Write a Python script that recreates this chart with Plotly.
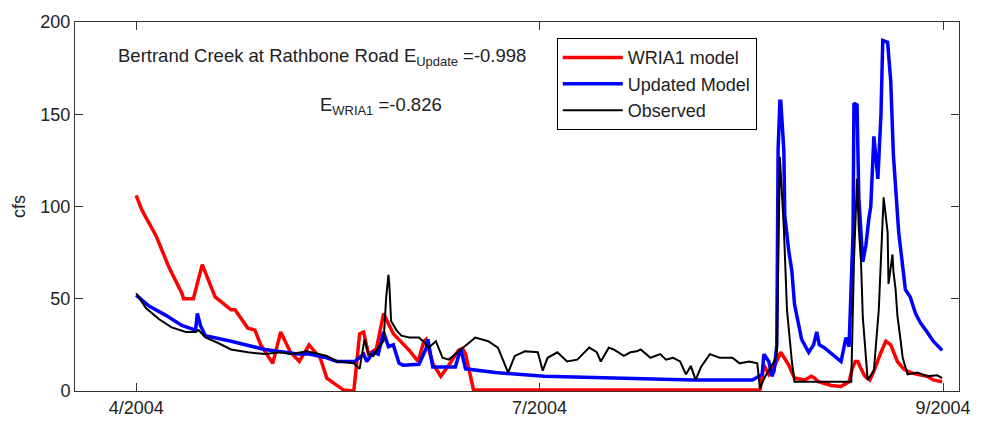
import plotly.graph_objects as go

# x = days after 1 April 2004
wria_days = [0, 1.3, 4.5, 7.4, 10.3, 10.7, 12.9, 14.9, 17.8, 21.4, 22.3, 25.2, 26.8, 28.1, 30.8,
             32.6, 34.8, 36.8, 39.0, 41.5, 43.0, 46.8, 49.1, 50.4, 51.3, 52.4, 54.2, 55.8, 57.1,
             58.0, 61.6, 63.6, 64.9, 65.4, 66.9, 68.7, 70.5, 72.7, 73.6, 74.3, 76.1,
             140.7, 141.6, 142.7, 143.9, 145.4, 147.2, 148.5, 150.8, 152.3, 153.0, 153.9, 156.8,
             159.0, 160.8, 161.5, 162.2, 162.8, 163.5, 164.4, 165.5, 166.6, 168.0, 169.1, 170.2,
             171.7, 173.1, 174.6, 176.2, 178.4, 179.8, 181.8]
wria_vals = [106, 98, 84, 67, 53, 50, 50, 68.5, 51, 44, 44, 34, 33, 25, 15,
             32, 21, 16, 25, 18, 7, 0.5, 0, 31, 32, 20, 23, 42, 35.5,
             31, 22, 16, 27, 28, 15, 8, 14, 22, 23, 20, 0.5,
             0.5, 14, 9, 13, 21, 14, 7, 6, 8, 7, 5, 3,
             2.5, 5, 12, 16, 16, 12, 8, 6, 12, 21, 27, 25,
             16, 12, 10, 9, 8, 6, 5]

upd_days = [0, 2.9, 6.7, 10.3, 13.4, 13.8, 14.5, 15.6, 21.4, 29.0, 36.4, 39.0, 43.0, 45.3, 49.3,
            51.3, 52.0, 53.5, 54.6, 55.8, 56.9, 58.0, 59.3, 60.2, 63.8, 65.4, 65.8, 66.9, 72.0,
            73.2, 74.3, 81.0, 92.1, 110.6, 125.6, 139.0, 141.2, 141.6, 142.7, 143.4, 143.9,
            144.5, 144.8, 145.2, 145.4, 146.1, 146.3, 147.2, 147.9, 148.5, 149.0, 150.1, 151.7,
            152.8, 153.5, 154.1, 155.2, 157.5, 159.0, 160.1, 160.8, 161.7, 161.9, 162.6, 163.0,
            163.9, 164.6, 165.3, 165.7, 166.4, 167.3, 168.0, 168.4, 169.5, 170.2, 170.8, 172.0,
            173.5, 174.6, 175.8, 176.9, 178.4, 179.8, 181.8]
upd_vals = [52, 46, 41, 35.5, 33, 42, 35.5, 30, 27, 22.5, 20, 20, 18, 16, 16,
            20, 16, 21, 20, 32, 24, 25, 15, 14, 14.5, 23, 28, 13, 13,
            23, 12, 10, 8, 7, 6, 6, 9, 20, 16, 8, 11,
            25, 131, 157, 157, 130, 95, 76, 65, 47, 41, 28, 21,
            25, 32, 25, 23.5, 19, 16, 29, 24, 86, 156, 155, 105,
            70, 79, 94, 100, 138, 115, 150, 190, 189, 168, 128, 86,
            55, 51, 42, 37, 32, 27, 22]

obs_days = [0, 2.2, 5.1, 8.0, 11.2, 13.4, 14.1, 15.6, 18.5, 21.4, 25.2, 29.0, 32.6, 34.8, 38.6,
            43.0, 45.3, 49.1, 50.4, 51.5, 52.4, 53.5, 54.6, 55.8, 56.4, 56.9, 57.1, 57.5, 58.7,
            59.8, 61.6, 63.8, 64.7, 66.0, 67.6, 69.1, 70.5, 72.0, 74.3, 76.5, 79.4, 81.6, 83.9,
            85.4, 87.7, 90.6, 91.7, 92.8, 95.0, 97.2, 99.5, 102.2, 103.9, 104.8, 106.6, 107.7,
            110.0, 111.5, 112.9, 113.8, 116.0, 118.2, 119.5, 121.1, 122.7, 124.0, 125.1, 126.2,
            127.4, 129.4, 131.6, 134.5, 136.1, 138.3, 140.1, 140.7, 141.9, 143.9, 144.5, 145.0,
            145.2, 146.1, 146.8, 147.9, 148.5, 161.3, 161.9, 162.6, 163.0, 163.5, 163.9, 165.0,
            166.4, 167.5, 168.0, 168.6, 169.5, 169.7, 170.6, 170.8, 171.3, 171.7, 172.4, 172.9,
            174.0, 176.2, 178.4, 180.7, 181.8]
obs_vals = [53, 45, 39, 34.5, 32, 32, 33, 29, 26, 22.5, 21, 20, 21, 20, 21.5,
            19, 16, 15, 12, 28, 20, 19, 23.5, 27, 51, 63, 58, 38, 33,
            30, 29, 29, 27, 23.5, 27, 18, 17, 20, 25, 29, 27, 23.5, 10,
            19, 21.5, 21, 11, 18, 21, 16, 17, 23.5, 21, 16, 23.5, 22.5,
            19, 21, 21.5, 22.5, 18, 20, 17, 18, 16, 9, 13.6, 6,
            13, 20, 18, 18, 15, 16, 15, 1.5, 8, 16, 20, 90,
            127, 88, 44, 16, 5, 5, 70, 115, 88, 70, 40, 6,
            11, 44, 68, 105, 86, 58, 74, 65, 55, 41, 28, 18,
            9, 10, 8, 8.5, 7]

x_tick_vals = [0, 91, 182]
x_tick_text = ["4/2004", "7/2004", "9/2004"]
y_tick_vals = [0, 50, 100, 150, 200]

FONT = "Liberation Sans, Arial, sans-serif"

fig = go.Figure()
fig.add_trace(go.Scatter(x=wria_days, y=wria_vals, mode="lines", name="WRIA1 model",
                         line=dict(color="#ff0000", width=3.5)))
fig.add_trace(go.Scatter(x=upd_days, y=upd_vals, mode="lines", name="Updated Model",
                         line=dict(color="#0000ff", width=3.5)))
fig.add_trace(go.Scatter(x=obs_days, y=obs_vals, mode="lines", name="Observed",
                         line=dict(color="#000000", width=2)))

axis_common = dict(showgrid=False, zeroline=False, showline=True, linecolor="#333333",
                   linewidth=1, mirror="allticks", ticks="inside", ticklen=8,
                   tickcolor="#333333", tickfont=dict(family=FONT, size=18, color="#222222"))

fig.update_xaxes(range=[-13.8, 185.6], tickvals=x_tick_vals, ticktext=x_tick_text, **axis_common)
fig.update_yaxes(range=[0, 200], tickvals=y_tick_vals,
                 title=dict(text="cfs", font=dict(family=FONT, size=18, color="#222222"), standoff=10),
                 **axis_common)

fig.add_annotation(xref="paper", yref="paper", x=0.046, y=0.905, xanchor="left", yanchor="middle",
                   text="Bertrand Creek at Rathbone Road E<sub>Update</sub> =-0.998", showarrow=False,
                   font=dict(family=FONT, size=18.5, color="#222222"))
fig.add_annotation(xref="paper", yref="paper", x=0.275, y=0.772, xanchor="left", yanchor="middle",
                   text="E<sub>WRIA1</sub> =-0.826", showarrow=False,
                   font=dict(family=FONT, size=18.5, color="#222222"))

fig.update_layout(
    width=982, height=430,
    margin=dict(l=75, r=13, t=15, b=32),
    paper_bgcolor="white", plot_bgcolor="white",
    showlegend=True,
    legend=dict(x=0.545, y=0.956, xanchor="left", yanchor="top", bgcolor="white",
                bordercolor="#000000", borderwidth=1, tracegroupgap=0, itemwidth=60,
                font=dict(family=FONT, size=18, color="#222222")),
)

fig.write_html("out.html")
